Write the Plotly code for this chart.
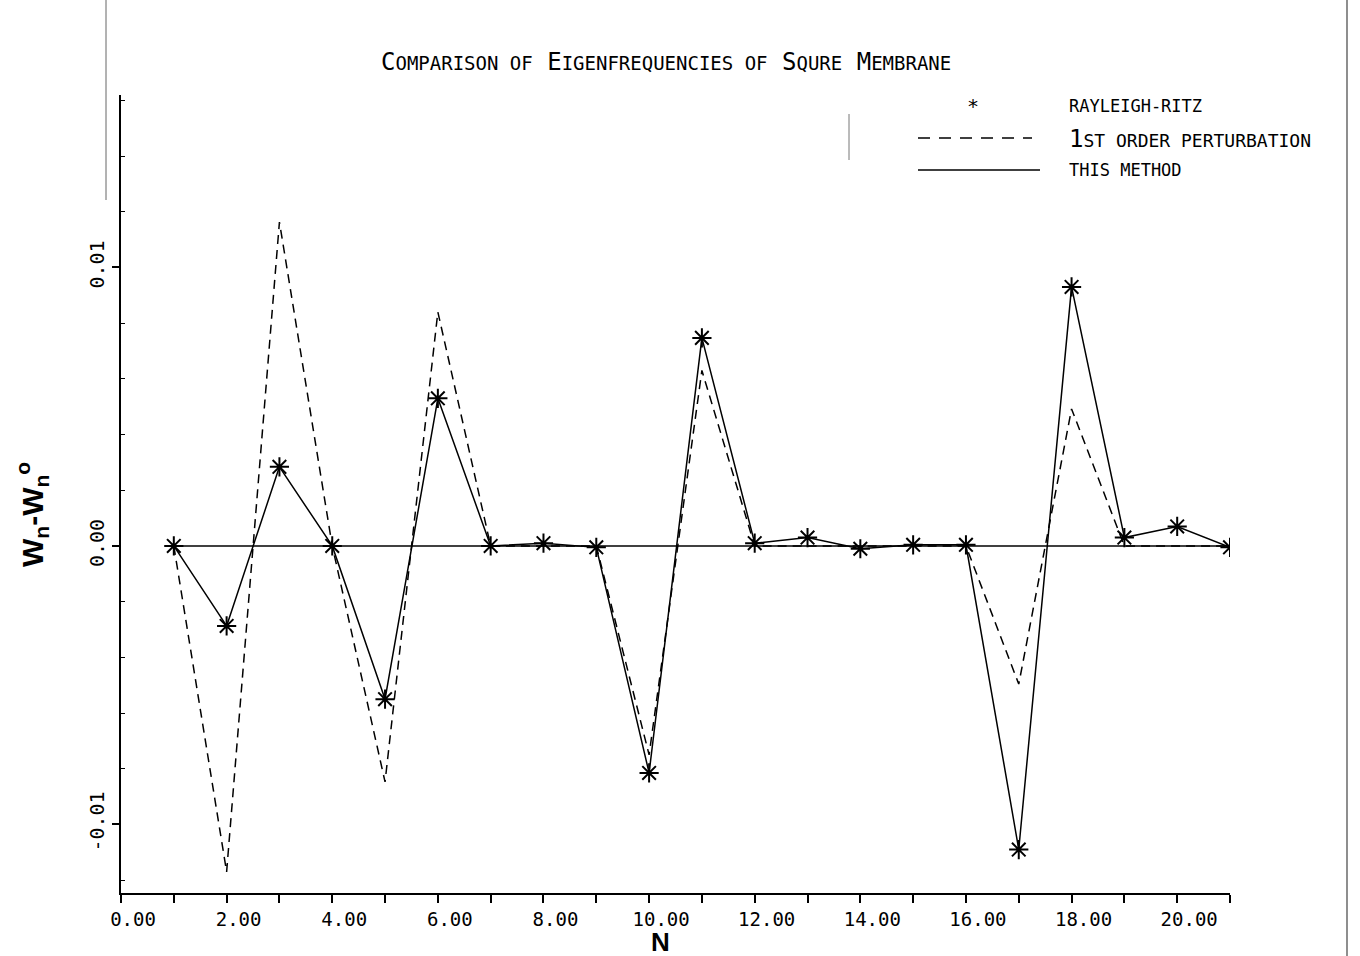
import plotly.graph_objects as go

# ---- data ----
N = list(range(1, 22))
rayleigh_ritz = [0.0, -0.00287, 0.00284, 0.0, -0.0055, 0.0053, 0.0, 0.0001, -0.00005,
                 -0.00815, 0.00747, 0.0001, 0.0003, -0.0001, 0.00004, 0.00004,
                 -0.0109, 0.0093, 0.0003, 0.0007, -0.00005]
this_method = [0.0, -0.00287, 0.00284, 0.0, -0.0055, 0.0053, 0.0, 0.0001, -0.00005,
               -0.00815, 0.00747, 0.0001, 0.0003, -0.0001, 0.00004, 0.00004,
               -0.0109, 0.0093, 0.0003, 0.0007, -0.00005]
first_order = [0.0, -0.0117, 0.01163, 0.0, -0.00847, 0.0084, 0.0, 0.0, 0.0,
               -0.0075, 0.0063, 0.0, 0.0, 0.0, 0.0, 0.0,
               -0.00496, 0.00492, 0.0, 0.0, 0.0]
x_tickvals = [0, 2, 4, 6, 8, 10, 12, 14, 16, 18, 20]
x_ticktext = ["0.00", "2.00", "4.00", "6.00", "8.00", "10.00", "12.00", "14.00",
              "16.00", "18.00", "20.00"]
x_minorvals = [1, 3, 5, 7, 9, 11, 13, 15, 17, 19, 21]
y_tickvals = [-0.01, 0.0, 0.01]
y_ticktext = ["-0.01", "0.00", "0.01"]

MONO = "DejaVu Sans Mono"
SANS = "Liberation Sans"

fig = go.Figure()
fig.add_trace(go.Scatter(x=N, y=first_order, mode="lines", name="1st order perturbation",
                         line=dict(color="black", width=1.5, dash="9px,6px")))
fig.add_trace(go.Scatter(x=N, y=this_method, mode="lines", name="This method",
                         line=dict(color="black", width=1.5)))
fig.add_trace(go.Scatter(x=N, y=rayleigh_ritz, mode="markers", name="Rayleigh-Ritz",
                         marker=dict(symbol="asterisk-open", size=16,
                                     line=dict(color="black", width=2), color="black")))

L, R, T, B = 121, 130, 95, 63
W, H = 1360, 956
pw, ph = W - L - R, H - T - B

def px(xp):
    return (xp - L) / pw

def py(yp):
    return (H - B - yp) / ph

shapes = [
    # zero reference line
    dict(type="line", xref="x", yref="y", x0=1, x1=21, y0=0, y1=0,
         line=dict(color="black", width=1.5)),
    # legend samples
    dict(type="line", xref="paper", yref="paper", x0=px(918), x1=px(1032), y0=py(138), y1=py(138),
         line=dict(color="black", width=1.5, dash="12px,9px")),
    dict(type="line", xref="paper", yref="paper", x0=px(918), x1=px(1040), y0=py(170), y1=py(170),
         line=dict(color="black", width=1.5)),
    # scan borders
    dict(type="line", xref="paper", yref="paper", x0=px(1347), x1=px(1347), y0=py(0), y1=py(956),
         line=dict(color="#444", width=1.2)),
    dict(type="line", xref="paper", yref="paper", x0=px(106), x1=px(106), y0=py(0), y1=py(200),
         line=dict(color="#666", width=1)),
    dict(type="line", xref="paper", yref="paper", x0=px(849), x1=px(849), y0=py(114), y1=py(160),
         line=dict(color="#777", width=1)),
]

small = "font-size:19px"
title_text = (f"C<span style='{small}'>OMPARISON OF</span> E<span style='{small}'>IGENFREQUENCIES OF</span> "
              f"S<span style='{small}'>QURE</span> M<span style='{small}'>EMBRANE</span>")

annotations = [
    dict(text=title_text, xref="paper", yref="paper", x=px(666), y=py(62),
         showarrow=False, font=dict(family=MONO, size=24, color="black"),
         xanchor="center", yanchor="middle"),
    dict(text="*", xref="paper", yref="paper", x=px(973), y=py(106), showarrow=False,
         font=dict(family=MONO, size=20, color="black"), xanchor="center", yanchor="middle"),
    dict(text="RAYLEIGH-RITZ", xref="paper", yref="paper", x=px(1067), y=py(106), showarrow=False,
         font=dict(family=MONO, size=17, color="black"), xanchor="left", yanchor="middle"),
    dict(text="1<span style='font-size:18px'>ST ORDER PERTURBATION</span>", xref="paper", yref="paper",
         x=px(1067), y=py(139), showarrow=False,
         font=dict(family=MONO, size=24, color="black"), xanchor="left", yanchor="middle"),
    dict(text="THIS METHOD", xref="paper", yref="paper", x=px(1067), y=py(170), showarrow=False,
         font=dict(family=MONO, size=17, color="black"), xanchor="left", yanchor="middle"),
    dict(text="<b>N</b>", xref="paper", yref="paper", x=px(660), y=py(942), showarrow=False,
         font=dict(family=SANS, size=26, color="black"), xanchor="center", yanchor="middle"),
    dict(text="<b>W<sub>n</sub>-W<sub>n</sub><sup>o</sup></b>", xref="paper", yref="paper",
         x=px(32), y=py(515), showarrow=False, textangle=-90,
         font=dict(family=SANS, size=30, color="black"), xanchor="center", yanchor="middle"),
]

fig.update_layout(
    width=W, height=H,
    margin=dict(l=L, r=R, t=T, b=B, pad=0),
    paper_bgcolor="white", plot_bgcolor="white",
    showlegend=False,
    shapes=shapes, annotations=annotations,
    font=dict(family=MONO, color="black"),
)
fig.update_xaxes(
    range=[0, 21], tickvals=x_tickvals, ticktext=x_ticktext,
    showgrid=False, zeroline=False, showline=True, linecolor="black", linewidth=1.5,
    ticks="outside", ticklen=8, tickwidth=1.5, tickcolor="black",
    tickfont=dict(family=MONO, size=19, color="black"), ticklabelshift=12,
    minor=dict(tickvals=x_minorvals, ticks="outside", ticklen=8, tickwidth=1.5, tickcolor="black"),
)
fig.update_yaxes(
    range=[-0.01246, 0.01619], tickvals=y_tickvals, ticktext=y_ticktext, tickangle=-90,
    showgrid=False, zeroline=False, showline=True, linecolor="black", linewidth=1.5,
    ticks="outside", ticklen=7, tickwidth=1.5, tickcolor="black",
    tickfont=dict(family=MONO, size=20, color="black"),
    minor=dict(tickvals=[-0.012, -0.008, -0.006, -0.004, -0.002, 0.002, 0.004, 0.006, 0.008,
                         0.012, 0.014, 0.016],
               ticks="inside", ticklen=4, tickcolor="black", tickwidth=1),
)

fig.write_html("out.html")
